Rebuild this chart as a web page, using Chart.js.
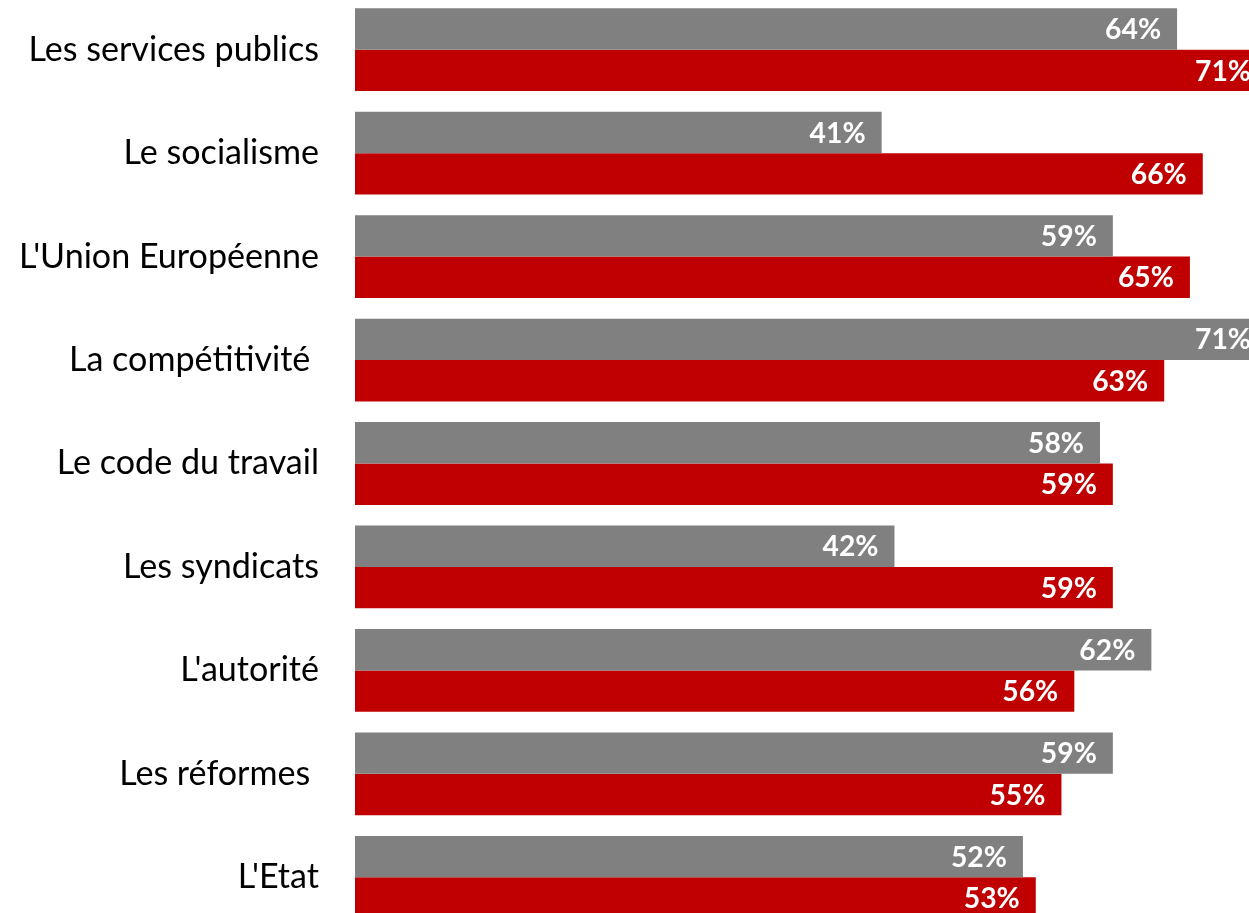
<!DOCTYPE html>
<html>
<head>
<meta charset="utf-8">
<script src="https://cdn.jsdelivr.net/npm/chart.js@4/dist/chart.umd.min.js"></script>
<style>
    html, body { margin: 0; padding: 0; background: #fff; overflow: hidden; }
    #wrap { position: absolute; left: 0; top: -2px; width: 1249px; height: 931px; }
</style>
</head>
<body>
<div id="wrap"><canvas id="chart"></canvas></div>
<script>
// Data
const categories = [
    'Les services publics',
    'Le socialisme',
    "L'Union Européenne",
    'La compétitivité ',
    'Le code du travail',
    'Les syndicats',
    "L'autorité",
    'Les réformes ',
    "L'Etat"
];
const greyValues = [64, 41, 59, 71, 58, 42, 62, 59, 52];
const redValues = [71, 66, 65, 63, 59, 59, 56, 55, 53];

const FONT = 'Lato, "Open Sans", sans-serif';

// pick font sizes so the text widths look like the original (Calibri)
function fitSize(text, weight, target) {
    const ctx = document.createElement('canvas').getContext('2d');
    ctx.font = weight + ' 40px ' + FONT;
    return Math.round(40 * target / ctx.measureText(text).width * 10) / 10;
}
const labelSize = fitSize('Les services publics', 'normal', 291);
const valueSize = fitSize('52%', 'bold', 56);

// white value labels at the end of each bar
const valueLabels = {
    id: 'valueLabels',
    afterDatasetsDraw(chart) {
        const ctx = chart.ctx;
        ctx.save();
        ctx.fillStyle = '#ffffff';
        ctx.font = 'bold ' + valueSize + 'px ' + FONT;
        ctx.textAlign = 'right';
        ctx.textBaseline = 'middle';
        chart.data.datasets.forEach((ds, i) => {
            chart.getDatasetMeta(i).data.forEach((bar, j) => {
                ctx.fillText(ds.data[j] + '%', bar.x - 16, bar.y + 1);
            });
        });
        ctx.restore();
    }
};

document.addEventListener('DOMContentLoaded', function() {
    const canvas = document.getElementById('chart');

    new Chart(canvas, {
        type: 'bar',
        data: {
            labels: categories,
            datasets: [{
                data: greyValues,
                backgroundColor: '#808080',
                borderWidth: 0
            }, {
                data: redValues,
                backgroundColor: '#c00000',
                borderWidth: 0
            }]
        },
        options: {
            indexAxis: 'y',
            responsive: true,
            maintainAspectRatio: false,
            animation: false,
            categoryPercentage: 0.8,
            barPercentage: 1,
            layout: { padding: 0 },
            plugins: {
                legend: { display: false },
                tooltip: { enabled: false }
            },
            scales: {
                x: {
                    display: false,
                    min: 0,
                    max: 69.6
                },
                y: {
                    grid: { display: false, drawTicks: false },
                    border: { display: false },
                    ticks: {
                        padding: 36,
                        color: '#000000',
                        font: { family: FONT, size: labelSize }
                    },
                    afterFit: function(scale) {
                        scale.width = 355;
                        // the bars run right up to the top and bottom edges
                        scale.paddingTop = 0;
                        scale.paddingBottom = 0;
                    }
                }
            }
        },
        plugins: [valueLabels]
    });
});
</script>
</body>
</html>
